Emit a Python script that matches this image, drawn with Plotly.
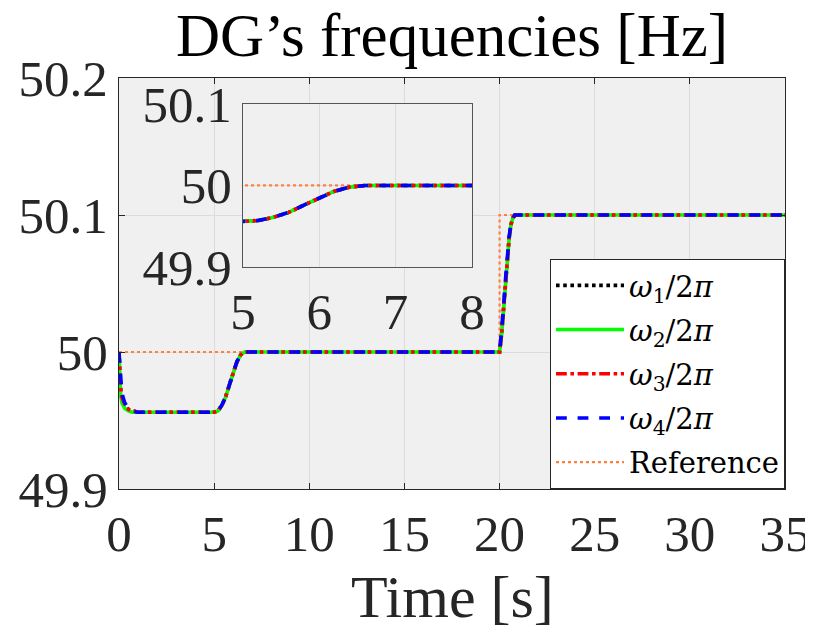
import plotly.graph_objects as go

# ---------------- data ----------------
time_s = [0.0, 0.03, 0.08, 0.15, 0.3, 0.5, 0.7, 1.0, 5.0, 5.2, 5.4, 5.6, 5.8, 6.0,
          6.2, 6.4, 6.6, 20.0, 20.1, 20.2, 20.3, 20.4, 20.5, 20.6, 20.7, 20.8, 35.0]

w1_hz = [50.0, 49.985, 49.972, 49.965, 49.961, 49.958, 49.957, 49.956, 49.956, 49.957,
         49.961, 49.967, 49.976, 49.985, 49.993, 49.998, 50.0, 50.0, 50.012, 50.03,
         50.05, 50.068, 50.083, 50.093, 50.098, 50.1, 50.1]
w2_hz = [50.0, 49.983, 49.970, 49.963, 49.959, 49.957, 49.956, 49.956, 49.956, 49.957,
         49.961, 49.967, 49.976, 49.985, 49.993, 49.998, 50.0, 50.0, 50.011, 50.029,
         50.049, 50.067, 50.082, 50.093, 50.098, 50.1, 50.1]
w3_hz = [50.0, 49.988, 49.975, 49.967, 49.962, 49.958, 49.957, 49.956, 49.956, 49.957,
         49.961, 49.967, 49.976, 49.985, 49.993, 49.998, 50.0, 50.0, 50.012, 50.03,
         50.05, 50.068, 50.083, 50.093, 50.098, 50.1, 50.1]
w4_hz = [50.0, 49.992, 49.980, 49.970, 49.963, 49.959, 49.957, 49.956, 49.956, 49.957,
         49.961, 49.967, 49.976, 49.985, 49.993, 49.998, 50.0, 50.0, 50.013, 50.031,
         50.051, 50.069, 50.084, 50.094, 50.098, 50.1, 50.1]

ref_time_s = [0.0, 20.0, 20.0, 35.0]
ref_hz = [50.0, 50.0, 50.1, 50.1]

series_names = ["<i>ω</i><sub>1</sub>/2<i>π</i>", "<i>ω</i><sub>2</sub>/2<i>π</i>",
                "<i>ω</i><sub>3</sub>/2<i>π</i>", "<i>ω</i><sub>4</sub>/2<i>π</i>"]
ref_name = "Reference"

x_ticks = [0, 5, 10, 15, 20, 25, 30, 35]
y_ticks = [49.9, 50.0, 50.1, 50.2]
y_tick_text = ["49.9", "50", "50.1", "50.2"]
inset_x_ticks = [5, 6, 7, 8]
inset_y_ticks = [49.9, 50.0, 50.1]
inset_y_tick_text = ["49.9", "50", "50.1"]

# ---------------- styling ----------------
FONT = "Liberation Serif"
colors = ["#000000", "#00ff00", "#ff0000", "#0000ff"]
dashes = ["dot", "solid", "dashdot", "dash"]
ref_color = "#ff7f3f"
LW = 3.6

fig = go.Figure()
series = [w1_hz, w2_hz, w3_hz, w4_hz]

for ax, show in (("", True), ("2", False)):
    xa = "x" + ax
    ya = "y" + ax
    fig.add_trace(go.Scatter(x=ref_time_s, y=ref_hz, mode="lines", name=ref_name,
                             line=dict(color=ref_color, width=2.2, dash="dot"),
                             xaxis=xa, yaxis=ya, showlegend=show, legendrank=5,
                             legendgroup="ref"))
    for i, vals in enumerate(series):
        fig.add_trace(go.Scatter(x=time_s, y=vals, mode="lines", name=series_names[i],
                                 line=dict(color=colors[i], width=LW, dash=dashes[i]),
                                 xaxis=xa, yaxis=ya, showlegend=show, legendrank=i + 1,
                                 legendgroup="w%d" % (i + 1)))

axis_common = dict(showline=True, linecolor="#262626", linewidth=1, mirror="ticks",
                   ticks="inside", ticklen=6, tickcolor="#262626", automargin=False,
                   showgrid=True, gridcolor="#dcdcdc", gridwidth=1, zeroline=False,
                   tickfont=dict(family=FONT, size=51, color="#262626"))

inset_common = dict(showline=True, linecolor="#555555", linewidth=1, mirror=True, ticks="",
                    showgrid=True, gridcolor="#dcdcdc", zeroline=False, automargin=False,
                    tickfont=dict(family=FONT, size=51, color="#262626"))

# page body has an 8px margin, so the figure is drawn 8px smaller and offset
fig.update_layout(
    width=805, height=626,
    margin=dict(l=111, r=28, t=70, b=145, autoexpand=False),
    paper_bgcolor="white",
    plot_bgcolor="#f0f0f0",
    title=dict(text="DG’s frequencies [Hz]", x=0.5516, xanchor="center",
               yref="container", y=0.958, yanchor="middle", automargin=False,
               font=dict(family=FONT, size=61, color="black")),
    xaxis=dict(range=[0, 35], tickvals=x_ticks, domain=[0, 1], **axis_common),
    yaxis=dict(range=[49.9, 50.2], tickvals=y_ticks, ticktext=y_tick_text, domain=[0, 1],
               **axis_common),
    xaxis2=dict(range=[5, 8], tickvals=inset_x_ticks, domain=[0.186, 0.530], anchor="y2",
                **inset_common),
    yaxis2=dict(range=[49.9, 50.1], tickvals=inset_y_ticks, ticktext=inset_y_tick_text,
                domain=[0.540, 0.937], anchor="x2", **inset_common),
    legend=dict(x=1, y=0, xanchor="right", yanchor="bottom", bgcolor="white",
                bordercolor="#262626", borderwidth=1, itemwidth=68,
                font=dict(family="DejaVu Serif", size=29, color="black"),
                tracegroupgap=3.5),
    annotations=[dict(text="Time [s]", xref="paper", yref="paper", x=0.5, y=-0.2628,
                      xanchor="center", yanchor="middle", showarrow=False,
                      font=dict(family=FONT, size=60, color="#262626"))],
    shapes=[dict(type="rect", xref="x2 domain", yref="y2 domain", x0=0, x1=1, y0=0, y1=1,
                 fillcolor="white", line=dict(width=0), layer="below")],
    showlegend=True,
)

fig.write_html("out.html")
